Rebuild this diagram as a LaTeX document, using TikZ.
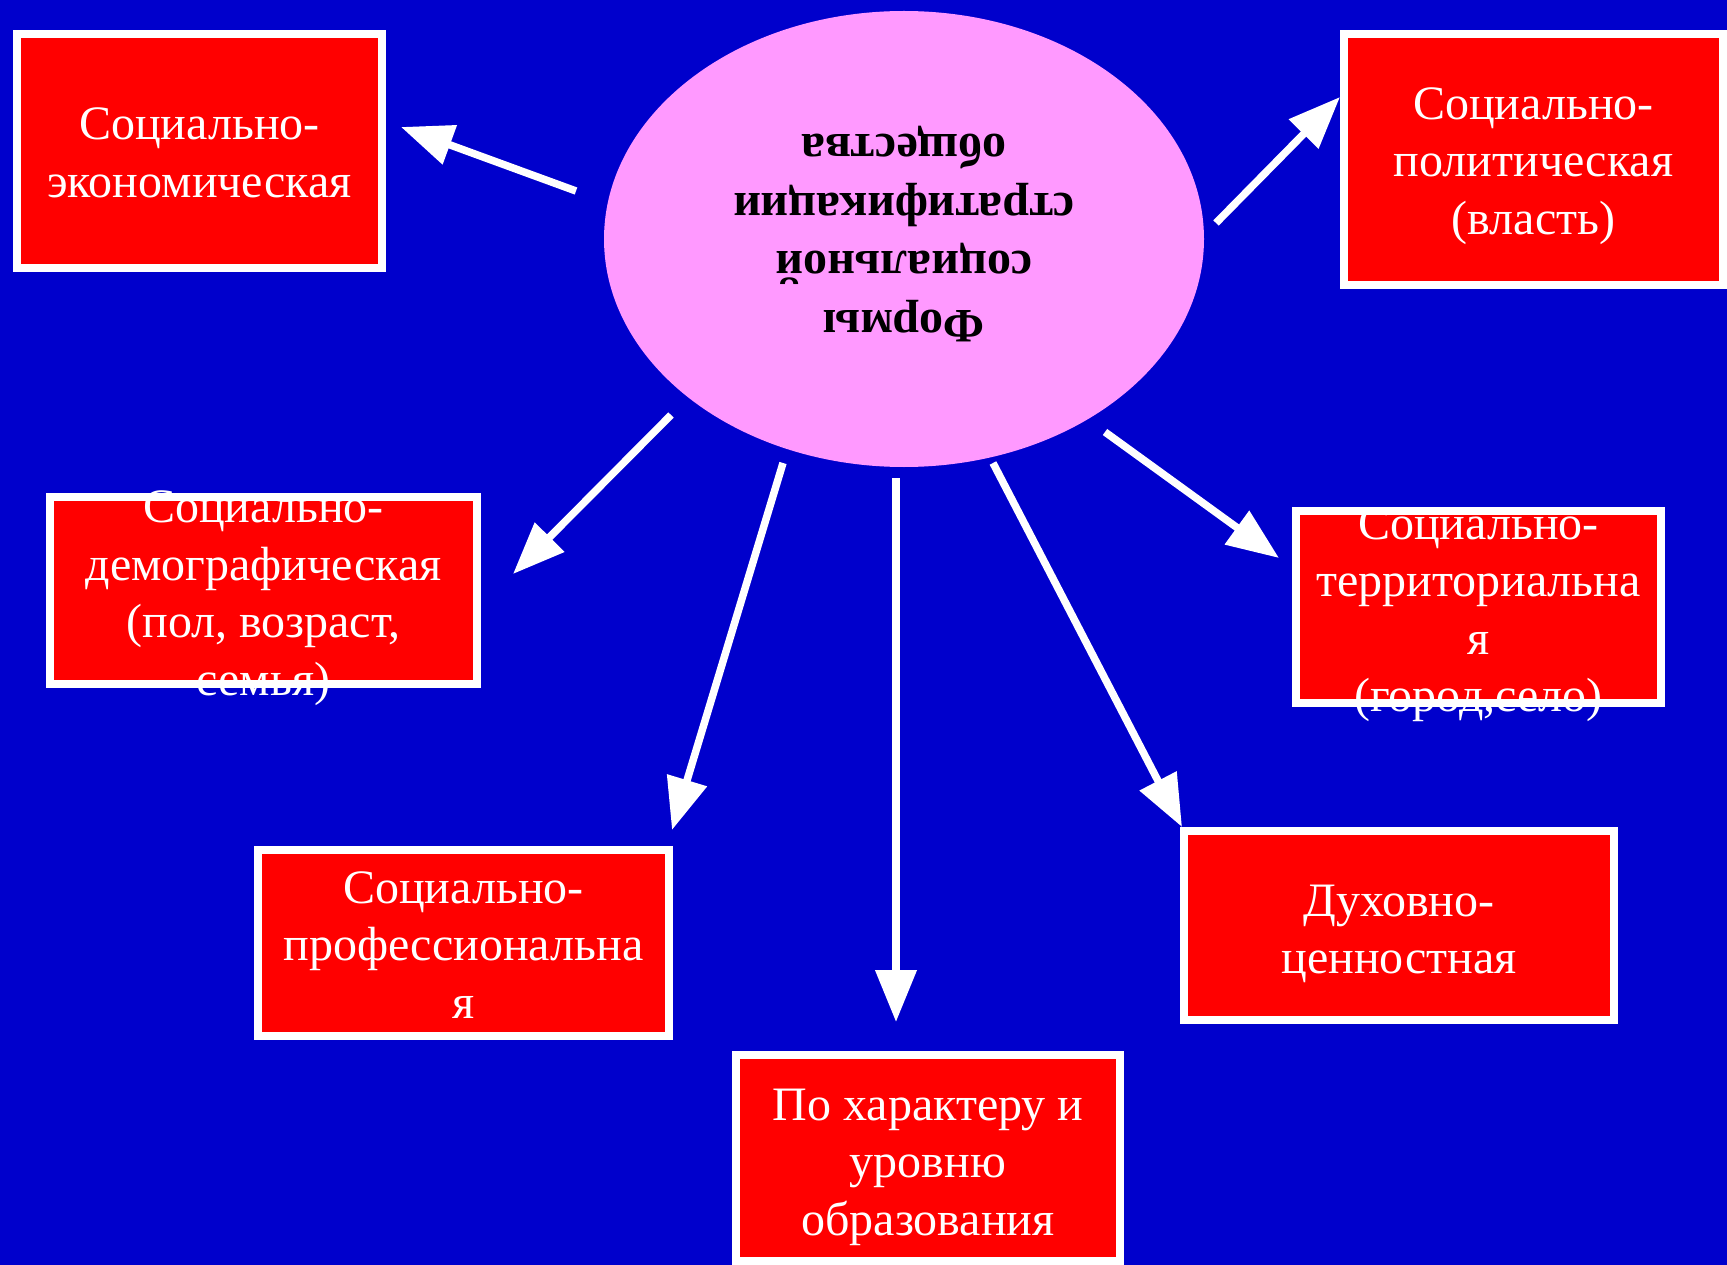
\documentclass[tikz,border=0pt]{standalone}
\usepackage{fontspec}
\setmainfont{Liberation Serif}
\usetikzlibrary{shapes.geometric,arrows.meta}

\begin{document}
\begin{tikzpicture}[x=1pt,y=-1pt,
  boite/.style={draw=white,line width=8pt,fill=krasnyj,inner sep=0pt},
  texte/.style={text=white,align=center,inner sep=0pt,font=\fontsize{48}{57.5}\selectfont},
  fleche/.style={draw=white,line width=7.5pt,-{Triangle[length=52pt,width=40pt]}}]
\definecolor{sinij}{HTML}{0000CC}
\definecolor{rozovyj}{HTML}{FF99FF}
\definecolor{krasnyj}{HTML}{FF0000}

\useasboundingbox (0,0) rectangle (1727,1265);
\fill[sinij] (0,0) rectangle (1727,1265); %фон

\node[ellipse,fill=rozovyj,minimum width=600pt,minimum height=456pt] (formy) at (904,239) {}; %центр
\node[rotate=180,align=center,inner sep=0pt,font=\bfseries\fontsize{48}{58.5}\selectfont] (formyT) at (904,234) {Формы\\социальной\\стратификации\\общества};

\node[boite,minimum width=365pt,minimum height=234pt] (ekon) at (199.5,151) {};
\node[texte] (ekonT) at (199.5,153) {Социально-\\экономическая};

\node[boite,minimum width=379pt,minimum height=251pt] (polit) at (1533.5,159.5) {};
\node[texte] (politT) at (1533.5,166) {Социально-\\политическая\\(власть)};

\node[boite,minimum width=427pt,minimum height=187pt] (demo) at (263.5,590.5) {};
\node[texte] (demoT) at (263.5,598) {Социально-\\демографическая\\(пол, возраст,\\семья)};

\node[boite,minimum width=365pt,minimum height=192pt] (terr) at (1478.5,607) {};
\node[texte] (terrT) at (1478.5,614.5) {Социально-\\территориальна\\я\\(город,село)};

\node[boite,minimum width=411pt,minimum height=186pt] (prof) at (463.5,943) {};
\node[texte] (profT) at (463.5,945) {Социально-\\профессиональна\\я};

\node[boite,minimum width=430pt,minimum height=189pt] (duh) at (1399,925.5) {};
\node[texte] (duhT) at (1399,934) {Духовно-\\ценностная};

\node[boite,minimum width=384pt,minimum height=206pt] (obr) at (928,1158) {};
\node[texte] (obrT) at (928,1167) {По характеру и\\уровню\\образования};

%стрелки
\coordinate (ot1) at (576,191);  \coordinate (k1) at (401,127);
\coordinate (ot2) at (1216,223); \coordinate (k2) at (1340,97);
\coordinate (ot3) at (671,415);  \coordinate (k3) at (513,574);
\coordinate (ot4) at (783,463);  \coordinate (k4) at (672,830);
\coordinate (ot5) at (896,478);  \coordinate (k5) at (896,1022);
\coordinate (ot6) at (993,463);  \coordinate (k6) at (1182,827);
\coordinate (ot7) at (1105,432); \coordinate (k7) at (1279,558);

\draw[fleche] (ot1) -- (k1);
\draw[fleche] (ot2) -- (k2);
\draw[fleche] (ot3) -- (k3);
\draw[fleche] (ot4) -- (k4);
\draw[fleche] (ot5) -- (k5);
\draw[fleche] (ot6) -- (k6);
\draw[fleche] (ot7) -- (k7);

\end{tikzpicture}
\end{document}
